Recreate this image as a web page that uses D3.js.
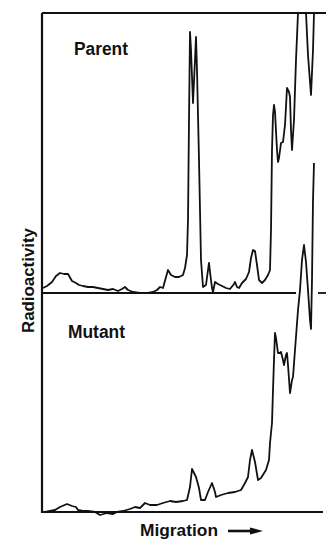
<!DOCTYPE html>
<html>
<head>
<meta charset="utf-8">
<script src="https://cdn.jsdelivr.net/npm/d3@7"></script>
<style>
  html, body { margin: 0; padding: 0; background: #fff; }
  svg { display: block; }
  text { font-family: "Liberation Sans", Arial, Helvetica, sans-serif; font-weight: bold; fill: #111; }
</style>
</head>
<body>
<svg id="chart"></svg>
<script>
// migration distance (arbitrary units) and radioactivity (arbitrary units)
const parentMigration = [0, 4, 9, 13, 17, 21, 25, 29, 33, 36, 40, 45, 50, 55, 60, 65, 70, 75, 79, 82, 85, 90, 97, 105, 110, 114, 117, 120,
  123, 125, 128, 132, 136, 140, 142, 144, 145, 146, 147, 148, 150, 152, 153, 154, 156, 158, 160, 163, 165, 166, 167, 169, 170,
  172, 175, 179, 183, 187, 191, 192, 194, 196, 199, 203, 206, 208, 210, 212, 214, 216, 219, 222, 225, 227, 228, 229, 230, 231,
  232, 234, 235, 236, 238, 240, 242, 244, 246, 247, 248, 249, 251, 253, 255, 257, 261, 263, 265, 268, 270, 271, 273];
const parentActivity = [5, 7, 11, 17, 20, 19, 19, 12, 10, 8, 7, 6, 6, 5, 4, 3, 4, 2, 4, 6, 3, 1, 0, 0, 1, 3, 6, 5,
  16, 23, 18, 16, 16, 18, 25, 38, 73, 173, 261, 243, 190, 233, 256, 223, 133, 33, 6, 8, 23, 30, 21, 5, 1,
  11, 9, 7, 5, 4, 9, 11, 6, 5, 10, 14, 21, 35, 43, 42, 28, 13, 10, 13, 18, 23, 63, 143, 178, 188,
  181, 143, 131, 135, 150, 151, 168, 205, 201, 196, 163, 143, 173, 233, 280, 313, 313, 280, 238, 198, 243, 280, 313];

const mutantMigration = [2, 7, 12, 17, 24, 29, 33, 35, 40, 45, 52, 57, 64, 70, 74, 80, 87, 92, 97, 102, 107, 114, 120, 127,
  133, 140, 144, 147, 149, 152, 153, 156, 158, 162, 165, 169, 172, 173, 178, 185, 192, 198, 202, 205, 207, 209, 212, 215,
  218, 223, 226, 227, 229, 230, 231, 232, 233, 235, 237, 238, 240, 241, 243, 244, 245, 247, 249, 250, 252, 255, 257, 259,
  261, 263, 265, 267, 268, 269, 270, 271];
const mutantActivity = [0, 1, 2, 5, 8, 6, 5, 2, 1, 1, 0, -3, -1, -2, 0, 1, 3, 5, 4, 9, 7, 7, 9, 11,
  10, 11, 12, 25, 43, 37, 35, 24, 12, 12, 20, 29, 20, 15, 17, 19, 20, 22, 29, 35, 52, 62, 50, 32,
  34, 42, 52, 69, 89, 122, 152, 179, 174, 159, 159, 160, 152, 147, 157, 159, 147, 119, 132, 135, 162, 202, 222, 252,
  267, 250, 222, 192, 183, 232, 312, 349];

const panelLabels = ["Parent", "Mutant"];
const yLabel = "Radioactivity";
const xLabel = "Migration";

const width = 326, height = 541;
const svg = d3.select("#chart").attr("width", width).attr("height", height);

const x = d3.scaleLinear().domain([0, 280]).range([43, 323]);
const yParent = d3.scaleLinear().domain([0, 280]).range([293, 13]);
const yMutant = d3.scaleLinear().domain([0, 280]).range([512, 232]);

const ink = "#111";

// frame
const frame = svg.append("g").attr("stroke", ink).attr("stroke-width", 2.2).attr("fill", "none");
frame.append("line").attr("x1", x(-1)).attr("x2", x(-1)).attr("y1", yParent(280)).attr("y2", yMutant(0) + 1);
frame.append("line").attr("x1", x(-1)).attr("x2", x(283)).attr("y1", yParent(280)).attr("y2", yParent(280));
frame.append("line").attr("x1", x(-1)).attr("x2", x(280)).attr("y1", yMutant(0)).attr("y2", yMutant(0));
// parent baseline, broken where the mutant trace passes
frame.append("line").attr("x1", x(0)).attr("x2", x(253)).attr("y1", yParent(0)).attr("y2", yParent(0)).attr("stroke-width", 1.8);
frame.append("line").attr("x1", x(275)).attr("x2", x(283)).attr("y1", yParent(0)).attr("y2", yParent(0)).attr("stroke-width", 1.8);

svg.append("clipPath").attr("id", "clipTop")
  .append("rect").attr("x", 0).attr("y", yParent(280)).attr("width", width).attr("height", height);

const parentLine = d3.line()
  .x((d, i) => x(parentMigration[i]))
  .y(d => yParent(d));
const mutantLine = d3.line()
  .x((d, i) => x(mutantMigration[i]))
  .y(d => yMutant(d));

svg.append("path")
  .datum(parentActivity)
  .attr("clip-path", "url(#clipTop)")
  .attr("d", parentLine)
  .attr("fill", "none")
  .attr("stroke", ink)
  .attr("stroke-width", 1.8)
  .attr("stroke-linejoin", "round");

svg.append("path")
  .datum(mutantActivity)
  .attr("d", mutantLine)
  .attr("fill", "none")
  .attr("stroke", ink)
  .attr("stroke-width", 1.8)
  .attr("stroke-linejoin", "round");

// panel labels
svg.append("text").attr("x", 74).attr("y", 55).attr("font-size", 18)
  .attr("textLength", 54).attr("lengthAdjust", "spacingAndGlyphs").text(panelLabels[0]);
svg.append("text").attr("x", 68).attr("y", 338).attr("font-size", 18)
  .attr("textLength", 57).attr("lengthAdjust", "spacingAndGlyphs").text(panelLabels[1]);

// axis titles
svg.append("text")
  .attr("transform", "translate(34,333) rotate(-90)")
  .attr("font-size", 17)
  .attr("textLength", 105).attr("lengthAdjust", "spacingAndGlyphs")
  .text(yLabel);

svg.append("text").attr("x", 140).attr("y", 536).attr("font-size", 17)
  .attr("textLength", 78).attr("lengthAdjust", "spacingAndGlyphs").text(xLabel);

// arrow
svg.append("line").attr("x1", 228).attr("x2", 254).attr("y1", 531).attr("y2", 531)
  .attr("stroke", ink).attr("stroke-width", 2.6);
svg.append("path").attr("d", "M250,527.5 L263,531 L250,534.5 Z").attr("fill", ink);
</script>
</body>
</html>
